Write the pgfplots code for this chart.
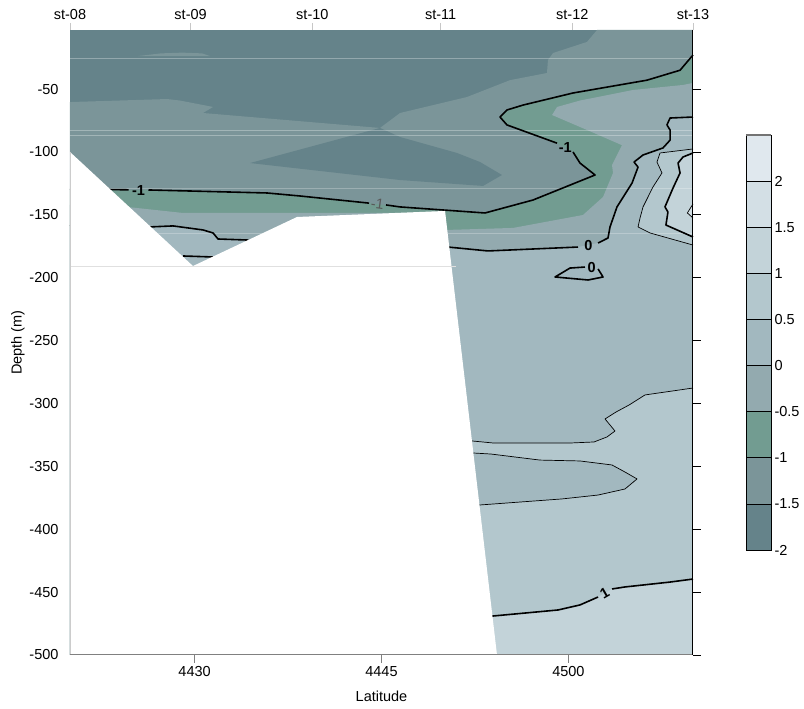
\documentclass[border=0pt]{standalone}
\usepackage{pgfplots}
\pgfplotsset{compat=1.18}
\usepackage{fontspec}
\setmainfont{Liberation Sans}
\definecolor{cA}{HTML}{65838A}
\definecolor{cB}{HTML}{7B9599}
\definecolor{cC}{HTML}{729C91}
\definecolor{cD}{HTML}{93AAAF}
\definecolor{cE}{HTML}{A2B8BF}
\definecolor{cF}{HTML}{B3C7CD}
\definecolor{cG}{HTML}{C3D3D9}
\definecolor{cH}{HTML}{D3DFE5}
\definecolor{cI}{HTML}{E0E8EE}
\newcommand{\fs}{\fontsize{14.5}{17}\selectfont}
\begin{document}
\begin{tikzpicture}[x=1pt,y=1pt]
\path[use as bounding box] (0,0) rectangle (804,709);
% ---------------- main section ----------------
\begin{axis}[
  at={(70pt,54pt)}, anchor=south west, scale only axis,
  width=623pt, height=625pt,
  xmin=20, xmax=70, ymin=-500, ymax=-3,
  clip=false, axis line style={draw=none},
  xtick={30,45,60}, xticklabels={4430,4445,4500},
  ytick={-500,-450,-400,-350,-300,-250,-200,-150,-100,-50},
  yticklabels={-500,-450,-400,-350,-300,-250,-200,-150,-100,-50},
  xtick pos=left, ytick pos=right, yticklabel pos=left,
  tick align=outside, major tick length=8pt,
  x tick style={draw=gray, line width=0.8pt},
  y tick style={draw=black, line width=0.8pt},
  tick label style={font=\fs},
  label style={font=\fs},
  xlabel={Latitude}, ylabel={Depth (m)},
  xlabel style={yshift=-7pt},
  ylabel style={yshift=-2pt},
  axis on top,
]
% background level (-2,-1.5)
\addplot[fill=cA, draw=none] coordinates {(20,-3) (70,-3) (70,-500) (20,-500)};
% level (-1.5,-1)
\addplot[fill=cB, draw=none] coordinates {(20,-60.3) (27.79,-57.9) (28.83,-59.1) (31.48,-64.2) (30.67,-69.0) (44.88,-80.9) (46.49,-69.0) (51.86,-56.3) (55.31,-42.9) (58.28,-37.2) (58.36,-26.9) (58.77,-21.3) (61.49,-12.5) (62.30,-3) (70,-3) (70,-500) (20,-500)};
% dark tongue
\addplot[fill=cA, draw=none] coordinates {(34.45,-108.8) (44.88,-80.9) (46.49,-88.1) (51.06,-100.8) (52.91,-108.0) (54.67,-118.3) (53.15,-127.0) (46.49,-122.3)};
% small lens near surface
\addplot[fill=cB, draw=none] coordinates {(25.46,-23.7) (27.3,-21.6) (29.0,-21.0) (30.6,-21.6) (31.24,-23.7)};
% level (-1,-0.5): below the -1 isoline
\addplot[fill=cC, draw=none] coordinates {(20,-129.4) (23.21,-130.2) (26.42,-130.2) (35.81,-132.6) (38.46,-135.0) (43.84,-140.5) (46.49,-143.7) (53.31,-148.5) (57.16,-138.2) (61.74,-119.9) (62.14,-118.3) (60.93,-108.8) (60.37,-100.0) (59.73,-96.8) (59.09,-93.0) (55.07,-78.5) (54.51,-72.2) (55.07,-66.6) (56.36,-62.7) (60.37,-53.1) (66.31,-42.9) (68.96,-35.0) (70,-22.9) (70,-500) (20,-500)};
% level (-0.5,0)
\addplot[fill=cD, draw=none] coordinates {(20,-142.1) (24.57,-143.7) (29.07,-148.5) (40.07,-148.5) (50.10,-148.5) (50.26,-162.0) (55.56,-160.4) (61.17,-150.1) (62.78,-135.8) (63.58,-116.7) (63.50,-110.4) (64.30,-94.6) (61.49,-82.5) (58.69,-70.6) (59.09,-64.2) (60.93,-59.1) (65.19,-50.7) (69.20,-46.7) (70,-45.1) (70,-500) (20,-500)};
% level (0,0.5): below the 0 isoline
\addplot[fill=cE, draw=none] coordinates {(20,-158.1) (26.42,-159.6) (28.27,-158.8) (30.67,-162.0) (31.48,-164.4) (31.88,-169.2) (34.21,-170.0) (34.69,-171.6) (42.47,-174.0) (50.34,-175.6) (53.55,-178.7) (60.77,-175.6) (62.38,-172.4) (63.18,-168.4) (63.34,-159.6) (63.90,-143.7) (65.11,-124.7) (65.59,-112.0) (65.27,-108.0) (65.99,-102.4) (67.59,-96.8) (68.16,-90.6) (68.16,-82.5) (67.91,-78.5) (68.16,-73.0) (70,-72.2) (70,-500) (20,-500)};
% level (0.5,1) upper right core
\addplot[fill=cF, draw=none] coordinates {(70,-97.6) (67.35,-100.8) (67.11,-108.0) (67.51,-116.7) (66.79,-127.8) (65.99,-143.7) (65.75,-152.5) (65.59,-159.6) (66.55,-164.4) (70,-174.0)};
% level (1,1.5) upper right core
\addplot[fill=cG, draw=none] coordinates {(70,-100.8) (69.20,-104.0) (68.80,-108.8) (68.96,-116.7) (68.40,-128.6) (67.75,-143.7) (67.99,-147.7) (67.83,-158.1) (70,-167.6)};
% level (1.5,2) tiny wedge
\addplot[fill=cH, draw=none] coordinates {(70,-141.3) (69.55,-148.5) (70,-152.5)};
% level (0.5,1) deep
\addplot[fill=cF, draw=none] coordinates {(50.9,-329.8) (52.26,-329.8) (53.95,-331.4) (60.21,-331.4) (62.06,-330.6) (63.10,-326.6) (63.74,-321.9) (62.94,-312.3) (63.82,-306.8) (64.87,-301.2) (66.15,-293.2) (70,-287.7) (70,-500) (50.9,-500)};
% tongue (0,0.5) at depth
\addplot[fill=cE, draw=none] coordinates {(50.9,-339.4) (52.42,-339.4) (53.79,-340.2) (57.72,-345.0) (60.93,-345.7) (63.50,-348.9) (64.54,-354.5) (65.51,-360.0) (64.54,-368.0) (62.38,-372.8) (59.49,-375.9) (52.91,-380.7) (50.9,-380.7)};
% level (1,1.5) deep
\addplot[fill=cG, draw=none] coordinates {(52.5,-469.8) (53.95,-469.0) (59.17,-464.2) (60.93,-460.2) (62.38,-453.9) (63.50,-447.5) (64.54,-445.9) (68.16,-442.0) (70,-439.6) (70,-500) (52.5,-500)};
% faint rendering seams
\addplot[white, opacity=0.3, line width=0.6pt] coordinates {(20,-25.3) (70,-25.3)};
\addplot[white, opacity=0.3, line width=0.6pt] coordinates {(20,-82.5) (70,-82.5)};
\addplot[white, opacity=0.3, line width=0.6pt] coordinates {(20,-86.5) (70,-86.5)};
\addplot[white, opacity=0.25, line width=0.6pt] coordinates {(20,-128.8) (70,-128.8)};
\addplot[white, opacity=0.25, line width=0.6pt] coordinates {(20,-164.4) (70,-164.4)};
% ---- isolines ----
% -1
\addplot[black, line width=1.6pt, line join=round] coordinates {(20,-129.4) (24.7,-130.1)};
\addplot[black, line width=1.6pt, line join=round] coordinates {(26.3,-130.2) (35.81,-132.6) (38.46,-135.0) (43.84,-140.5) (44.0,-140.7)};
\addplot[black, line width=1.6pt, line join=round] coordinates {(45.36,-142.1) (46.49,-143.7) (53.31,-148.5) (57.16,-138.2) (61.74,-119.9) (62.14,-118.3) (60.93,-108.8) (60.37,-100.0)};
\addplot[black, line width=1.6pt, line join=round] coordinates {(59.09,-93.0) (55.07,-78.5) (54.51,-72.2) (55.07,-66.6) (56.36,-62.7) (60.37,-53.1) (66.31,-42.9) (68.96,-35.0) (70,-22.9)};
% 0
\addplot[black, line width=1.6pt, line join=round] coordinates {(20,-158.1) (26.42,-159.6) (28.27,-158.8) (30.67,-162.0) (31.48,-164.4) (31.88,-169.2) (34.21,-170.0) (34.69,-171.6) (42.47,-174.0) (50.34,-175.6) (53.55,-178.7) (60.77,-175.6)};
\addplot[black, line width=1.6pt, line join=round] coordinates {(62.38,-172.4) (63.18,-168.4) (63.34,-159.6) (63.90,-143.7) (65.11,-124.7) (65.59,-112.0) (65.27,-108.0) (65.99,-102.4) (67.59,-96.8) (68.16,-90.6) (68.16,-82.5) (67.91,-78.5) (68.16,-73.0) (70,-72.2)};
\addplot[black, line width=1.6pt, line join=round] coordinates {(62.38,-193.0) (62.78,-199.4) (61.58,-201.8) (58.93,-199.4) (60.13,-192.3) (61.33,-191.5)};
\addplot[black, line width=1.6pt] coordinates {(29.07,-182.7) (31.48,-183.5)};
% 0.5 (thin)
\addplot[black, line width=0.7pt, line join=round] coordinates {(70,-97.6) (67.35,-100.8) (67.11,-108.0) (67.51,-116.7) (66.79,-127.8) (65.99,-143.7) (65.75,-152.5) (65.59,-159.6) (66.55,-164.4) (70,-174.0)};
\addplot[black, line width=0.7pt, line join=round] coordinates {(50.9,-329.8) (52.26,-329.8) (53.95,-331.4) (60.21,-331.4) (62.06,-330.6) (63.10,-326.6) (63.74,-321.9) (62.94,-312.3) (63.82,-306.8) (64.87,-301.2) (66.15,-293.2) (70,-287.7)};
\addplot[black, line width=0.7pt, line join=round] coordinates {(50.9,-339.4) (52.42,-339.4) (53.79,-340.2) (57.72,-345.0) (60.93,-345.7) (63.50,-348.9) (64.54,-354.5) (65.51,-360.0) (64.54,-368.0) (62.38,-372.8) (59.49,-375.9) (52.91,-380.7) (50.9,-380.7)};
% 1
\addplot[black, line width=1.6pt, line join=round] coordinates {(70,-100.8) (69.20,-104.0) (68.80,-108.8) (68.96,-116.7) (68.40,-128.6) (67.75,-143.7) (67.99,-147.7) (67.83,-158.1) (70,-167.6)};
\addplot[black, line width=1.6pt, line join=round] coordinates {(52.5,-469.8) (53.95,-469.0) (59.17,-464.2) (60.93,-460.2) (62.38,-453.9)};
\addplot[black, line width=1.6pt, line join=round] coordinates {(63.50,-447.5) (64.54,-445.9) (68.16,-442.0) (70,-439.6)};
% 1.5 (thin)
\addplot[black, line width=0.7pt] coordinates {(70,-141.3) (69.55,-148.5) (70,-152.5)};
% labels
\node[font=\fs\bfseries] at (25.5,-130.6) {-1};
\node[font=\fs, text=black!65, rotate=-8] at (44.68,-141.4) {-1};
\node[font=\fs\bfseries] at (59.75,-96.6) {-1};
\node[font=\fs\bfseries] at (61.6,-174.6) {0};
\node[font=\fs\bfseries] at (61.86,-192.0) {0};
\node[font=\fs\bfseries, rotate=30] at (62.9,-450.8) {1};
% seabed mask
\addplot[fill=white, draw=none] coordinates {(20,-100) (29.87,-190.7) (38.22,-151.7) (50.10,-146.9) (54.27,-500) (20,-500)};
\addplot[black!12, line width=0.6pt] coordinates {(20,-190.7) (51.0,-190.7)};
% frame
\draw[black!20, line width=0.8pt] (axis cs:20,-500) -- (axis cs:20,-100);
\draw[black!50, line width=1pt] (axis cs:20,-500) -- (axis cs:70,-500);
\draw[black, line width=1pt] (axis cs:70,-500) -- (axis cs:70,-3);
\end{axis}
% ---------------- station axis (top) ----------------
\begin{axis}[
  at={(70pt,54pt)}, anchor=south west, scale only axis,
  width=623pt, height=625pt,
  xmin=20, xmax=70, ymin=0, ymax=1,
  axis x line*=top, axis y line=none,
  x axis line style={draw=none},
  xtick={20,29.68,39.45,49.75,60.31,70},
  xticklabels={st-08,st-09,st-10,st-11,st-12,st-13},
  tick align=outside, major tick length=7pt,
  x tick style={draw=black!22, line width=0.8pt},
  tick label style={font=\fs},
]
\addplot[draw=none] coordinates {(20,0.5) (70,0.5)};
\end{axis}
% ---------------- colour bar ----------------
\begin{axis}[
  at={(746pt,159pt)}, anchor=south west, scale only axis,
  width=25pt, height=415pt,
  xmin=0, xmax=1, ymin=-2, ymax=2.5, clip=false,
  axis line style={draw=none}, xtick=\empty,
  ytick={-2,-1.5,-1,-0.5,0,0.5,1,1.5,2},
  yticklabels={-2,-1.5,-1,-0.5,0,0.5,1,1.5,2},
  yticklabel pos=right, ytick style={draw=none},
  yticklabel style={font=\fs, anchor=west},
]
\addplot[fill=cA, draw=black, line width=0.7pt] coordinates {(0,-2) (1,-2) (1,-1.5) (0,-1.5)} -- cycle;
\addplot[fill=cB, draw=black, line width=0.7pt] coordinates {(0,-1.5) (1,-1.5) (1,-1) (0,-1)} -- cycle;
\addplot[fill=cC, draw=black, line width=0.7pt] coordinates {(0,-1) (1,-1) (1,-0.5) (0,-0.5)} -- cycle;
\addplot[fill=cD, draw=black, line width=0.7pt] coordinates {(0,-0.5) (1,-0.5) (1,0) (0,0)} -- cycle;
\addplot[fill=cE, draw=black, line width=0.7pt] coordinates {(0,0) (1,0) (1,0.5) (0,0.5)} -- cycle;
\addplot[fill=cF, draw=black, line width=0.7pt] coordinates {(0,0.5) (1,0.5) (1,1) (0,1)} -- cycle;
\addplot[fill=cG, draw=black, line width=0.7pt] coordinates {(0,1) (1,1) (1,1.5) (0,1.5)} -- cycle;
\addplot[fill=cH, draw=black, line width=0.7pt] coordinates {(0,1.5) (1,1.5) (1,2) (0,2)} -- cycle;
\addplot[fill=cI, draw=black, line width=0.7pt] coordinates {(0,2) (1,2) (1,2.5) (0,2.5)} -- cycle;
\draw[black!55, line width=1.2pt] (axis cs:0,2.5) -- (axis cs:1,2.5);
\end{axis}
\end{tikzpicture}
\end{document}
